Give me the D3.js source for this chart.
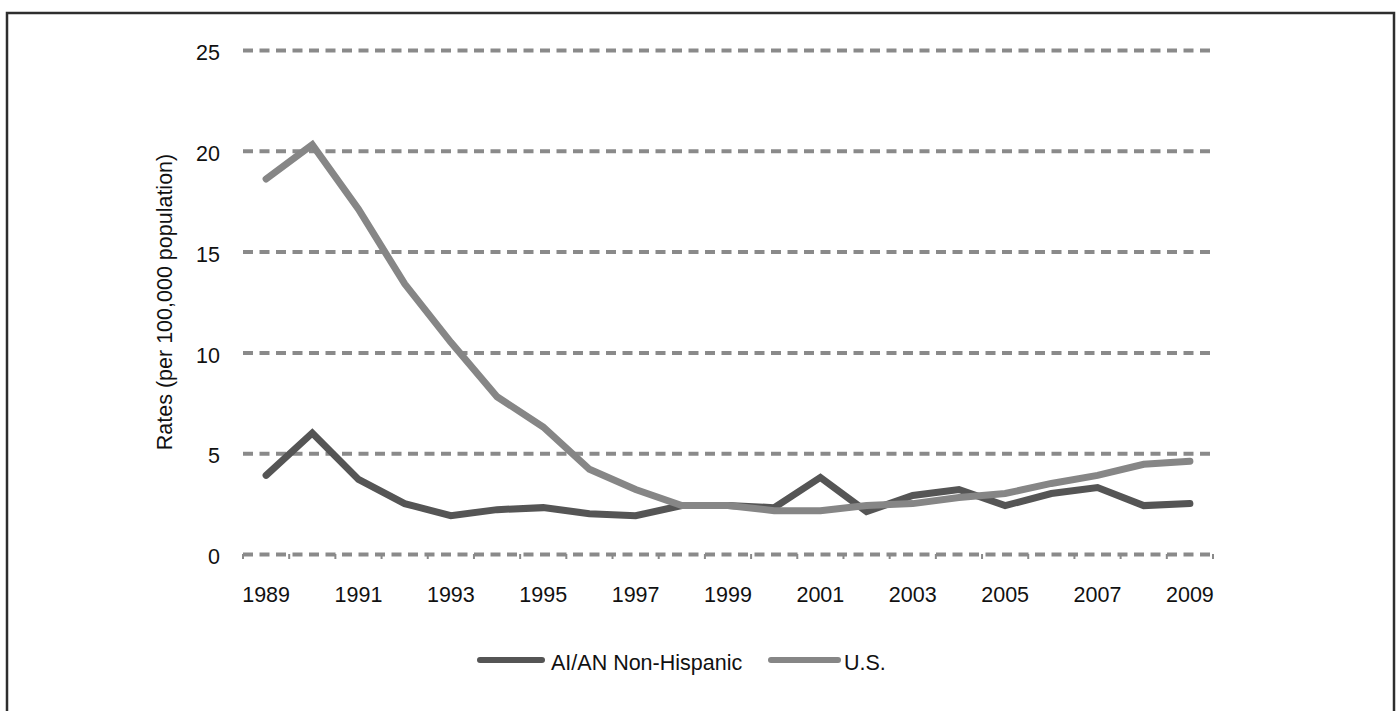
<!DOCTYPE html>
<html>
<head>
<meta charset="utf-8">
<script src="https://cdn.jsdelivr.net/npm/d3@7"></script>
<style>
  html, body { margin: 0; padding: 0; background: #ffffff; }
  svg { display: block; }
  text { font-family: "Liberation Sans", Arial, sans-serif; fill: #111; }
</style>
</head>
<body>
<svg id="chart" width="1397" height="711"></svg>
<script>
const years = [1989,1990,1991,1992,1993,1994,1995,1996,1997,1998,1999,2000,2001,2002,2003,2004,2005,2006,2007,2008,2009];
const aianValues = [3.9,6.0,3.7,2.5,1.9,2.2,2.3,2.0,1.9,2.4,2.4,2.3,3.8,2.1,2.9,3.2,2.4,3.0,3.3,2.4,2.5];
const usValues = [18.6,20.3,17.1,13.4,10.5,7.8,6.3,4.2,3.2,2.4,2.4,2.15,2.15,2.4,2.5,2.8,3.0,3.5,3.9,4.45,4.6];
const yTicks = [0,5,10,15,20,25];
const xTickLabels = [1989,1991,1993,1995,1997,1999,2001,2003,2005,2007,2009];
const seriesNames = ["AI/AN Non-Hispanic", "U.S."];
const seriesColors = ["#555555", "#868686"];
const yTitle = "Rates (per 100,000 population)";

const svg = d3.select("#chart");
const fs = "21.5px";

// outer frame
svg.append("rect")
  .attr("x", 7).attr("y", 13)
  .attr("width", 1387).attr("height", 720)
  .attr("fill", "none").attr("stroke", "#2e2e2e").attr("stroke-width", 2.5);

const x = d3.scaleBand().domain(years).range([243, 1213]).paddingInner(0).paddingOuter(0);
const y = d3.scaleLinear().domain([0, 25]).range([554, 50]);
const cx = d => x(d) + x.bandwidth() / 2;

const gridColor = "#8a8a8a";

// y axis with dashed gridlines
const yAxis = svg.append("g")
  .attr("transform", `translate(${x.range()[0]},0)`)
  .call(d3.axisLeft(y).tickValues(yTicks).tickSize(-(x.range()[1] - x.range()[0])).tickPadding(23).tickFormat(d3.format("d")));
yAxis.select(".domain").remove();
yAxis.selectAll(".tick line")
  .attr("stroke", gridColor).attr("stroke-width", 4)
  .attr("stroke-dasharray", "10,6.5");
yAxis.selectAll(".tick text")
  .attr("dy", "0.45em")
  .style("font-size", fs).attr("fill", "#111");

// small tick marks at category boundaries on the zero line
const bounds = years.map(d => x(d)).concat([x.range()[1]]);
svg.append("g").selectAll("line").data(bounds).join("line")
  .attr("x1", d => d).attr("x2", d => d)
  .attr("y1", y(0)).attr("y2", y(0) + 5)
  .attr("stroke", gridColor).attr("stroke-width", 2);

// x axis labels
const xAxis = svg.append("g")
  .attr("transform", `translate(0,${y(0)})`)
  .call(d3.axisBottom(x).tickValues(xTickLabels).tickSize(0).tickPadding(33));
xAxis.select(".domain").remove();
xAxis.selectAll(".tick text").style("font-size", fs).attr("fill", "#111");

// y title
svg.append("text")
  .attr("transform", "translate(172,302) rotate(-90)")
  .attr("text-anchor", "middle")
  .style("font-size", fs)
  .text(yTitle);

// lines
const line = d3.line().x((d, i) => cx(years[i])).y(d => y(d));
svg.append("path").datum(aianValues)
  .attr("d", line).attr("fill", "none")
  .attr("stroke", seriesColors[0]).attr("stroke-width", 7)
  .attr("stroke-linecap", "round").attr("stroke-linejoin", "miter");
svg.append("path").datum(usValues)
  .attr("d", line).attr("fill", "none")
  .attr("stroke", seriesColors[1]).attr("stroke-width", 7)
  .attr("stroke-linecap", "round").attr("stroke-linejoin", "miter");

// legend
const legendItems = [
  {name: seriesNames[0], color: seriesColors[0], x1: 480, x2: 542, tx: 551},
  {name: seriesNames[1], color: seriesColors[1], x1: 771, x2: 838, tx: 844}
];
const lg = svg.append("g");
legendItems.forEach(it => {
  lg.append("line")
    .attr("x1", it.x1).attr("x2", it.x2).attr("y1", 660).attr("y2", 660)
    .attr("stroke", it.color).attr("stroke-width", 6).attr("stroke-linecap", "round");
  lg.append("text")
    .attr("x", it.tx).attr("y", 670)
    .style("font-size", fs)
    .text(it.name);
});
</script>
</body>
</html>
